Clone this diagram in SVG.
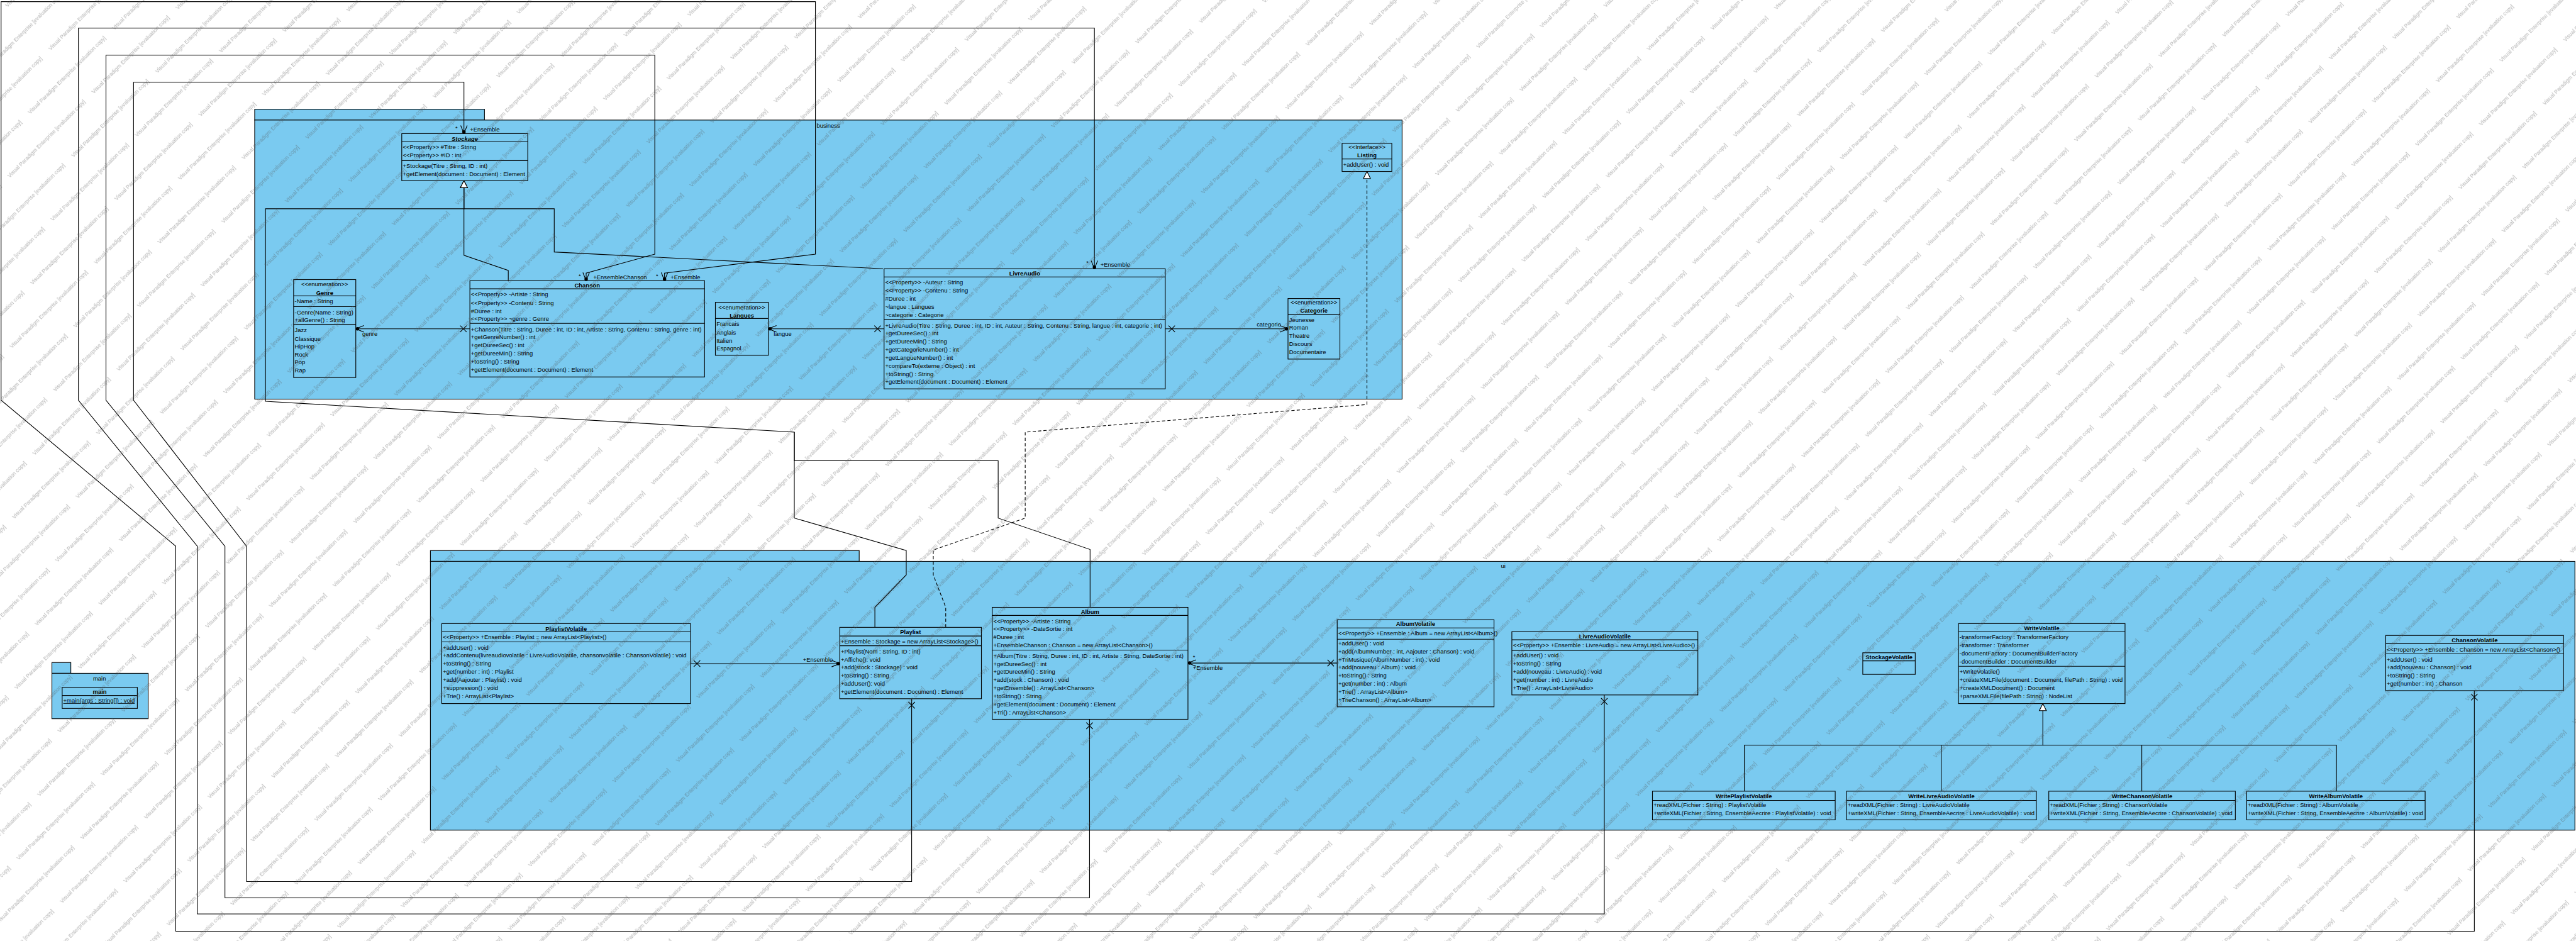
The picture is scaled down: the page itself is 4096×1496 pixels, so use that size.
<svg xmlns="http://www.w3.org/2000/svg" width="4096" height="1496" viewBox="0 0 4096 1496">
<style>
.pkg{fill:#7ACAF0;stroke:#000;stroke-width:1.3}
.cls{fill:#7ACAF0;stroke:#000;stroke-width:1.3}
.dv{stroke:#000;stroke-width:1.3}
text{font-family:"Liberation Sans",Arial,sans-serif;font-size:11px;fill:#000}
.b{font-weight:bold}
.c{text-anchor:middle}
.ln{fill:none;stroke:#000;stroke-width:1.3}
.da{stroke-dasharray:6 4}
.wm{font-size:10px;fill:#505050;fill-opacity:0.45}
</style>
<defs>
<marker id="nav" viewBox="-20 -10 24 20" refX="0" refY="0" markerWidth="24" markerHeight="20" orient="auto" markerUnits="userSpaceOnUse">
<path d="M-15,-6 L0,0 L-15,6" fill="none" stroke="#000" stroke-width="1.3"/>
<circle cx="-3" cy="0" r="3.2" fill="#000"/>
</marker>
<marker id="xs" viewBox="0 -10 30 20" refX="0" refY="0" markerWidth="30" markerHeight="20" orient="auto" markerUnits="userSpaceOnUse">
<path d="M6,-6 L18,6 M6,6 L18,-6" stroke="#000" stroke-width="1.3"/>
</marker>
<marker id="gen" viewBox="-16 -9 18 18" refX="0" refY="0" markerWidth="18" markerHeight="18" orient="auto" markerUnits="userSpaceOnUse">
<path d="M0,0 L-13,-6.5 L-13,6.5 Z" fill="#fff" stroke="#000" stroke-width="1.3"/>
</marker>
<pattern id="wmp" patternUnits="userSpaceOnUse" width="220" height="113" patternTransform="rotate(-45)">
<text class="wm" x="0" y="20">Visual Paradigm Enterprise [evaluation copy]</text>
<text class="wm" x="110" y="76">Visual Paradigm Enterprise [evaluation copy]</text>
<text class="wm" x="-110" y="76">Visual Paradigm Enterprise [evaluation copy]</text>
</pattern>
</defs>
<rect width="4096" height="1496" fill="#fff"/>
<g transform="scale(0.85978)">
<!-- packages -->
<g id="pkg-business">
<rect class="pkg" x="471" y="202" width="425" height="20"/>
<rect class="pkg" x="471" y="222" width="2122" height="516"/>
<text class="c" x="1532" y="236">business</text>
</g>
<g id="pkg-ui">
<rect class="pkg" x="796" y="1018" width="793" height="20"/>
<rect class="pkg" x="796" y="1038" width="3966" height="497"/>
<text class="c" x="2780" y="1050">ui</text>
</g>
<g id="pkg-main">
<rect class="pkg" x="96" y="1225" width="35" height="20"/>
<rect class="pkg" x="96" y="1245" width="178" height="84"/>
<text class="c" x="184" y="1258">main</text>
</g>

<!-- connectors -->
<g id="connectors">
<!-- generalizations to Stockage -->
<path class="ln" d="M1633,497 L1025,466 L1025,386 L858,386 L858,334" marker-end="url(#gen)"/>
<path class="ln" d="M940,519 L940,500 L858,472 L858,334" marker-end="url(#gen)"/>
<path class="ln" d="M1618,1160 L1618,1123 L1676,1063 L1676,1018 L1469,958 L1469,799 L491,742 L491,386 L858,386 L858,334" marker-end="url(#gen)"/>
<path class="ln" d="M2016,1123 L2016,1016 L1846,958 L1846,852 L1469,852 L1469,799"/>
<!-- realization to Listing -->
<path class="ln da" d="M1749,1160 L1749,1123 L1726,1063 L1726,1017 L1896,958 L1896,799 L2528,748 L2528,317" marker-end="url(#gen)"/>
<!-- associations inside packages -->
<path class="ln" d="M869,608 L658,608" marker-start="url(#xs)" marker-end="url(#nav)"/>
<path class="ln" d="M1635,608 L1421,608" marker-start="url(#xs)" marker-end="url(#nav)"/>
<path class="ln" d="M2155,608 L2382,608" marker-start="url(#xs)" marker-end="url(#nav)"/>
<path class="ln" d="M1277,1227 L1553,1227" marker-start="url(#xs)" marker-end="url(#nav)"/>
<path class="ln" d="M2473,1226 L2197,1226" marker-start="url(#xs)" marker-end="url(#nav)"/>
<!-- long loops -->
<path class="ln" d="M1686,1292 L1686,1630 L456,1630 L456,1010 L247,740 L247,152 L858,152 L858,247" marker-start="url(#xs)" marker-end="url(#nav)"/>
<path class="ln" d="M2015,1330 L2015,1660 L416,1660 L416,1010 L196,740 L196,102 L1211,102 L1211,470 L1084,505 L1084,519" marker-start="url(#xs)" marker-end="url(#nav)"/>
<path class="ln" d="M2967,1285 L2967,1690 L365,1690 L365,1010 L145,740 L145,52 L2024,52 L2024,497" marker-start="url(#xs)" marker-end="url(#nav)"/>
<path class="ln" d="M4576,1277 L4576,1722 L325,1722 L325,1010 L2,740 L2,3 L1508,3 L1508,470 L1229,505 L1229,519" marker-start="url(#xs)" marker-end="url(#nav)"/>
<!-- Write generalization tree -->
<path class="ln" d="M3226,1463 L3226,1378 L3778,1378 L3778,1301" marker-end="url(#gen)"/>
<path class="ln" d="M3590,1463 L3590,1378"/>
<path class="ln" d="M3961,1463 L3961,1378"/>
<path class="ln" d="M4321,1463 L4321,1378 L3778,1378"/>
<!-- end labels -->
<text x="670" y="621">genre</text>
<text x="1431" y="621">langue</text>
<text x="2324" y="604">categorie</text>
<text x="1485" y="1223">+Ensemble</text>
<text x="2206" y="1219">*</text>
<text x="2206" y="1239">+Ensemble</text>
<text x="842" y="241">*</text>
<text x="869" y="243">+Ensemble</text>
<text x="1070" y="514">*</text>
<text x="1097" y="516">+EnsembleChanson</text>
<text x="1213" y="514">*</text>
<text x="1240" y="516">+Ensemble</text>
<text x="2009" y="490">*</text>
<text x="2035" y="493">+Ensemble</text>
</g>

<!-- business classes -->
<g id="Stockage">
<rect class="cls" x="743" y="247" width="233" height="87"/>
<line class="dv" x1="743" y1="262" x2="976" y2="262"/><line class="dv" x1="743" y1="297" x2="976" y2="297"/>
<text class="b c" x="859.5" y="260" font-style="italic">Stockage</text>
<text x="745" y="276">&lt;&lt;Property&gt;&gt; #Titre : String</text>
<text x="745" y="291">&lt;&lt;Property&gt;&gt; #ID : int</text>
<text x="745" y="311">+Stockage(Titre : String, ID : int)</text>
<text x="745" y="326">+getElement(document : Document) : Element</text>
</g>
<g id="Genre">
<rect class="cls" x="543" y="517" width="115" height="181"/>
<line class="dv" x1="543" y1="547" x2="658" y2="547"/><line class="dv" x1="543" y1="567" x2="658" y2="567"/><line class="dv" x1="543" y1="600" x2="658" y2="600"/>
<text class="c" x="600.5" y="529">&lt;&lt;enumeration&gt;&gt;</text>
<text class="b c" x="600.5" y="545">Genre</text>
<text x="545" y="561">-Name : String</text>
<text x="545" y="581">-Genre(Name : String)</text>
<text x="545" y="595">+allGenre() : String</text>
<text x="545" y="614">Jazz</text>
<text x="545" y="630">Classique</text>
<text x="545" y="644">HipHop</text>
<text x="545" y="659">Rock</text>
<text x="545" y="674">Pop</text>
<text x="545" y="689">Rap</text>
</g>
<g id="Chanson">
<rect class="cls" x="869" y="519" width="434" height="178"/>
<line class="dv" x1="869" y1="534" x2="1303" y2="534"/><line class="dv" x1="869" y1="598" x2="1303" y2="598"/>
<text class="b c" x="1086" y="532">Chanson</text>
<text x="871" y="548">&lt;&lt;Property&gt;&gt; -Artiste : String</text>
<text x="871" y="564">&lt;&lt;Property&gt;&gt; -Contenu : String</text>
<text x="871" y="579">#Duree : int</text>
<text x="871" y="593">&lt;&lt;Property&gt;&gt; ~genre : Genre</text>
<text x="871" y="613">+Chanson(Titre : String, Duree : int, ID : int, Artiste : String, Contenu : String, genre : int)</text>
<text x="871" y="627">+getGenreNumber() : int</text>
<text x="871" y="642">+getDureeSec() : int</text>
<text x="871" y="657">+getDureeMin() : String</text>
<text x="871" y="672">+toString() : String</text>
<text x="871" y="687">+getElement(document : Document) : Element</text>
</g>
<g id="Langues">
<rect class="cls" x="1323" y="559" width="98" height="98"/>
<line class="dv" x1="1323" y1="589" x2="1421" y2="589"/>
<text class="c" x="1372" y="572">&lt;&lt;enumeration&gt;&gt;</text>
<text class="b c" x="1372" y="587">Langues</text>
<text x="1325" y="603">Francais</text>
<text x="1325" y="619">Anglais</text>
<text x="1325" y="634">Italien</text>
<text x="1325" y="648">Espagnol</text>
</g>
<g id="LivreAudio">
<rect class="cls" x="1635" y="497" width="520" height="222"/>
<line class="dv" x1="1635" y1="512" x2="2155" y2="512"/><line class="dv" x1="1635" y1="591" x2="2155" y2="591"/>
<text class="b c" x="1895" y="509">LivreAudio</text>
<text x="1637" y="526">&lt;&lt;Property&gt;&gt; -Auteur : String</text>
<text x="1637" y="541">&lt;&lt;Property&gt;&gt; -Contenu : String</text>
<text x="1637" y="556">#Duree : int</text>
<text x="1637" y="571">~langue : Langues</text>
<text x="1637" y="586">~categorie : Categorie</text>
<text x="1637" y="606">+LivreAudio(Titre : String, Duree : int, ID : int, Auteur : String, Contenu : String, langue : int, categorie : int)</text>
<text x="1637" y="620">+getDureeSec() : int</text>
<text x="1637" y="635">+getDureeMin() : String</text>
<text x="1637" y="650">+getCategorieNumber() : int</text>
<text x="1637" y="665">+getLangueNumber() : int</text>
<text x="1637" y="680">+compareTo(externe : Object) : int</text>
<text x="1637" y="695">+toString() : String</text>
<text x="1637" y="710">+getElement(document : Document) : Element</text>
</g>
<g id="Categorie">
<rect class="cls" x="2382" y="552" width="96" height="112"/>
<line class="dv" x1="2382" y1="582" x2="2478" y2="582"/>
<text class="c" x="2430" y="563">&lt;&lt;enumeration&gt;&gt;</text>
<text class="b c" x="2430" y="578">Categorie</text>
<text x="2384" y="595">Jeunesse</text>
<text x="2384" y="610">Roman</text>
<text x="2384" y="625">Theatre</text>
<text x="2384" y="640">Discours</text>
<text x="2384" y="655">Documentaire</text>
</g>
<g id="Listing">
<rect class="cls" x="2482" y="265" width="92" height="52"/>
<line class="dv" x1="2482" y1="294" x2="2574" y2="294"/>
<text class="c" x="2528" y="276">&lt;&lt;Interface&gt;&gt;</text>
<text class="b c" x="2528" y="291">Listing</text>
<text x="2484" y="308">+addUser() : void</text>
</g>

<!-- ui classes -->
<g id="PlaylistVolatile">
<rect class="cls" x="817" y="1153" width="460" height="148"/>
<line class="dv" x1="817" y1="1168" x2="1277" y2="1168"/><line class="dv" x1="817" y1="1187" x2="1277" y2="1187"/>
<text class="b c" x="1047" y="1166">PlaylistVolatile</text>
<text x="819" y="1182">&lt;&lt;Property&gt;&gt; +Ensemble : Playlist = new ArrayList&lt;Playlist&gt;()</text>
<text x="819" y="1202">+addUser() : void</text>
<text x="819" y="1216">+addContenu(livreaudiovolatile : LivreAudioVolatile, chansonvolatile : ChansonVolatile) : void</text>
<text x="819" y="1231">+toString() : String</text>
<text x="819" y="1246">+get(number : int) : Playlist</text>
<text x="819" y="1261">+add(Aajouter : Playlist) : void</text>
<text x="819" y="1276">+suppression() : void</text>
<text x="819" y="1291">+Trie() : ArrayList&lt;Playlist&gt;</text>
</g>
<g id="Playlist">
<rect class="cls" x="1553" y="1160" width="262" height="132"/>
<line class="dv" x1="1553" y1="1176" x2="1815" y2="1176"/><line class="dv" x1="1553" y1="1194" x2="1815" y2="1194"/>
<text class="b c" x="1684" y="1172">Playlist</text>
<text x="1555" y="1190">+Ensemble : Stockage = new ArrayList&lt;Stockage&gt;()</text>
<text x="1555" y="1209">+Playlist(Nom : String, ID : int)</text>
<text x="1555" y="1223">+Affiche(): void</text>
<text x="1555" y="1238">+add(stock : Stockage) : void</text>
<text x="1555" y="1253">+toString() : String</text>
<text x="1555" y="1268">+addUser(): void</text>
<text x="1555" y="1283">+getElement(document : Document) : Element</text>
</g>
<g id="Album">
<rect class="cls" x="1835" y="1123" width="362" height="207"/>
<line class="dv" x1="1835" y1="1138" x2="2197" y2="1138"/><line class="dv" x1="1835" y1="1202" x2="2197" y2="1202"/>
<text class="b c" x="2016" y="1135">Album</text>
<text x="1837" y="1153">&lt;&lt;Property&gt;&gt; -Artiste : String</text>
<text x="1837" y="1167">&lt;&lt;Property&gt;&gt; -DateSortie : int</text>
<text x="1837" y="1182">#Duree : int</text>
<text x="1837" y="1197">+EnsembleChanson : Chanson = new ArrayList&lt;Chanson&gt;()</text>
<text x="1837" y="1217">+Album(Titre : String, Duree : int, ID : int, Artiste : String, DateSortie : int)</text>
<text x="1837" y="1232">+getDureeSec() : int</text>
<text x="1837" y="1246">+getDureeMin() : String</text>
<text x="1837" y="1261">+add(stock : Chanson) : void</text>
<text x="1837" y="1276">+getEnsemble() : ArrayList&lt;Chanson&gt;</text>
<text x="1837" y="1291">+toString() : String</text>
<text x="1837" y="1306">+getElement(document : Document) : Element</text>
<text x="1837" y="1321">+Tri() : ArrayList&lt;Chanson&gt;</text>
</g>
<g id="AlbumVolatile">
<rect class="cls" x="2473" y="1146" width="290" height="161"/>
<line class="dv" x1="2473" y1="1161" x2="2763" y2="1161"/><line class="dv" x1="2473" y1="1182" x2="2763" y2="1182"/>
<text class="b c" x="2618" y="1157">AlbumVolatile</text>
<text x="2475" y="1175">&lt;&lt;Property&gt;&gt; +Ensemble : Album = new ArrayList&lt;Album&gt;()</text>
<text x="2475" y="1193">+addUser() : void</text>
<text x="2475" y="1208">+add(AlbumNumber : int, Aajouter : Chanson) : void</text>
<text x="2475" y="1223">+TriMusique(AlbumNumber : int) : void</text>
<text x="2475" y="1238">+add(nouveau : Album) : void</text>
<text x="2475" y="1253">+toString() : String</text>
<text x="2475" y="1268">+get(number : int) : Album</text>
<text x="2475" y="1283">+Trie() : ArrayList&lt;Album&gt;</text>
<text x="2475" y="1298">+TrieChanson() : ArrayList&lt;Album&gt;</text>
</g>
<g id="LivreAudioVolatile">
<rect class="cls" x="2796" y="1168" width="344" height="117"/>
<line class="dv" x1="2796" y1="1183" x2="3140" y2="1183"/><line class="dv" x1="2796" y1="1203" x2="3140" y2="1203"/>
<text class="b c" x="2968" y="1181">LivreAudioVolatile</text>
<text x="2798" y="1197">&lt;&lt;Property&gt;&gt; +Ensemble : LivreAudio = new ArrayList&lt;LivreAudio&gt;()</text>
<text x="2798" y="1216">+addUser() : void</text>
<text x="2798" y="1231">+toString() : String</text>
<text x="2798" y="1246">+add(nouveau : LivreAudio) : void</text>
<text x="2798" y="1261">+get(number : int) : LivreAudio</text>
<text x="2798" y="1276">+Trie() : ArrayList&lt;LivreAudio&gt;</text>
</g>
<g id="StockageVolatile">
<rect class="cls" x="3445" y="1207" width="97" height="40"/>
<line class="dv" x1="3445" y1="1222" x2="3542" y2="1222"/>
<text class="b c" x="3493.5" y="1219">StockageVolatile</text>
</g>
<g id="WriteVolatile">
<rect class="cls" x="3622" y="1153" width="308" height="148"/>
<line class="dv" x1="3622" y1="1168" x2="3930" y2="1168"/><line class="dv" x1="3622" y1="1232" x2="3930" y2="1232"/>
<text class="b c" x="3776" y="1165">WriteVolatile</text>
<text x="3624" y="1182">-transformerFactory : TransformerFactory</text>
<text x="3624" y="1197">-transformer : Transformer</text>
<text x="3624" y="1212">-documentFactory : DocumentBuilderFactory</text>
<text x="3624" y="1227">-documentBuilder : DocumentBuilder</text>
<text x="3624" y="1246">+WriteVolatile()</text>
<text x="3624" y="1261">+createXMLFile(document : Document, filePath : String) : void</text>
<text x="3624" y="1276">+createXMLDocument() : Document</text>
<text x="3624" y="1291">+parseXMLFile(filePath : String) : NodeList</text>
</g>
<g id="ChansonVolatile">
<rect class="cls" x="4412" y="1175" width="329" height="102"/>
<line class="dv" x1="4412" y1="1190" x2="4741" y2="1190"/><line class="dv" x1="4412" y1="1209" x2="4741" y2="1209"/>
<text class="b c" x="4576.5" y="1187">ChansonVolatile</text>
<text x="4414" y="1205">&lt;&lt;Property&gt;&gt; +Ensemble : Chanson = new ArrayList&lt;Chanson&gt;()</text>
<text x="4414" y="1223">+addUser() : void</text>
<text x="4414" y="1238">+add(nouveau : Chanson) : void</text>
<text x="4414" y="1253">+toString() : String</text>
<text x="4414" y="1268">+get(number : int) : Chanson</text>
</g>
<g id="WritePlaylistVolatile">
<rect class="cls" x="3056" y="1463" width="338" height="53"/>
<line class="dv" x1="3056" y1="1480" x2="3394" y2="1480"/>
<text class="b c" x="3225" y="1476">WritePlaylistVolatile</text>
<text x="3058" y="1492">+readXML(Fichier : String) : PlaylistVolatile</text>
<text x="3058" y="1507">+writeXML(Fichier : String, EnsembleAecrire : PlaylistVolatile) : void</text>
</g>
<g id="WriteLivreAudioVolatile">
<rect class="cls" x="3415" y="1463" width="351" height="53"/>
<line class="dv" x1="3415" y1="1480" x2="3766" y2="1480"/>
<text class="b c" x="3590.5" y="1476">WriteLivreAudioVolatile</text>
<text x="3417" y="1492">+readXML(Fichier : String) : LivreAudioVolatile</text>
<text x="3417" y="1507">+writeXML(Fichier : String, EnsembleAecrire : LivreAudioVolatile) : void</text>
</g>
<g id="WriteChansonVolatile">
<rect class="cls" x="3789" y="1463" width="345" height="53"/>
<line class="dv" x1="3789" y1="1480" x2="4134" y2="1480"/>
<text class="b c" x="3961.5" y="1476">WriteChansonVolatile</text>
<text x="3791" y="1492">+readXML(Fichier : String) : ChansonVolatile</text>
<text x="3791" y="1507">+writeXML(Fichier : String, EnsembleAecrire : ChansonVolatile) : void</text>
</g>
<g id="WriteAlbumVolatile">
<rect class="cls" x="4155" y="1463" width="330" height="53"/>
<line class="dv" x1="4155" y1="1480" x2="4485" y2="1480"/>
<text class="b c" x="4320" y="1476">WriteAlbumVolatile</text>
<text x="4157" y="1492">+readXML(Fichier : String) : AlbumVolatile</text>
<text x="4157" y="1507">+writeXML(Fichier : String, EnsembleAecrire : AlbumVolatile) : void</text>
</g>
<g id="main">
<rect class="cls" x="115" y="1271" width="139" height="39"/>
<line class="dv" x1="115" y1="1286" x2="254" y2="1286"/>
<text class="b c" x="184.5" y="1283">main</text>
<text x="117" y="1299" text-decoration="underline">+main(args : String[]) : void</text>
</g>
<rect x="0" y="0" width="4764" height="1740" fill="url(#wmp)" pointer-events="none"/>
</g>
</svg>
